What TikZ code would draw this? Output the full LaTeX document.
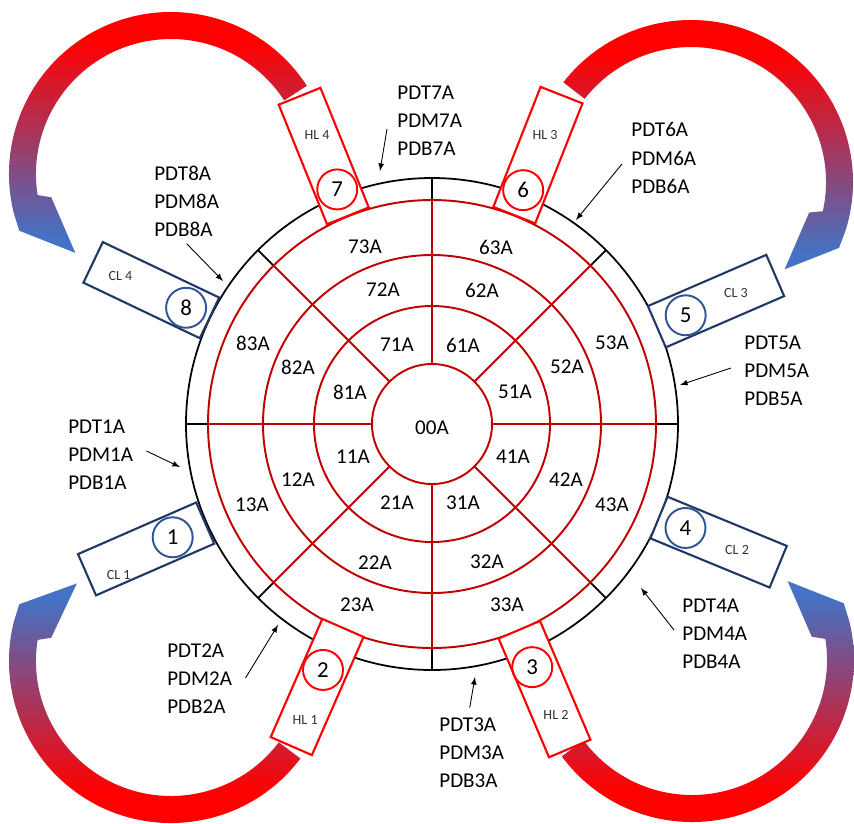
\documentclass[tikz,border=0pt]{standalone}
\usepackage{fontspec}
\setmainfont{Carlito}
\usepackage{tikz}
\definecolor{ringred}{RGB}{192,0,0}
\definecolor{hlred}{RGB}{255,0,0}
\definecolor{clnavy}{RGB}{32,56,100}
\definecolor{clblue}{RGB}{47,85,151}
\definecolor{flowred}{RGB}{255,0,0}
\definecolor{flowblue}{RGB}{68,114,196}
\pgfdeclareverticalshading{flowshade}{100bp}{color(0bp)=(flowblue); color(28bp)=(flowblue); color(65bp)=(flowred); color(100bp)=(flowred)}
\tikzset{every picture/.style={x=0.02cm,y=0.02cm},
  ring/.style={draw=ringred,line width=1.1pt},
  rim/.style={draw=black,line width=1pt},
  cell/.style={inner sep=0pt,font=\fontsize{12}{14}\selectfont},
  pdlabel/.style={inner sep=0pt,anchor=west,align=left,font=\fontsize{12}{16}\selectfont},
  hlbox/.style={draw=hlred,fill=white,line width=1.2pt,minimum width=2.58cm,minimum height=0.9cm,inner sep=0pt},
  clbox/.style={draw=clnavy,fill=white,line width=1.2pt,minimum width=2.58cm,minimum height=0.9cm,inner sep=0pt},
  hlnum/.style={circle,draw=hlred,line width=1.1pt,minimum size=0.8cm,inner sep=0pt,font=\fontsize{13}{15}\selectfont},
  clnum/.style={circle,draw=clblue,line width=1.1pt,minimum size=0.8cm,inner sep=0pt,font=\fontsize{13}{15}\selectfont},
  tag/.style={inner sep=0pt,text=black!80,font=\fontsize{8}{10}\selectfont},
  pointer/.style={-latex,line width=0.5pt},
  flow/.style={shading=flowshade}}
\begin{document}
\begin{tikzpicture}
\useasboundingbox (-432,-399) rectangle (422,424);

% big return arrows
\begin{scope}[shift={(-261,250)}]
\shade[flow] (33:162) arc[start angle=33,end angle=194,radius=162] -- (200.5:162) -- (219.5:124) -- (191:122) -- (189:135) arc[start angle=189,end angle=33,radius=135] -- cycle;
\end{scope}
\begin{scope}[shift={(259,242)}]
\shade[flow] (142:162) arc[start angle=142,end angle=-17.5,radius=162] -- (-24:162) -- (-43:128) -- (-14.5:122) -- (-12.5:135) arc[start angle=-12.5,end angle=142,radius=135] -- cycle;
\end{scope}
\begin{scope}[shift={(-261,-237)}]
\shade[flow,shading angle=180] (-37:162) arc[start angle=-37,end angle=-194,radius=162] -- (-200.5:162) -- (-219.5:122) -- (-191:122) -- (-189:135) arc[start angle=-189,end angle=-37,radius=135] -- cycle;
\end{scope}
\begin{scope}[shift={(260,-236)}]
\shade[flow,shading angle=180] (216.5:162) arc[start angle=216.5,end angle=374,radius=162] -- (380.5:162) -- (399.5:124) -- (371:122) -- (369:135) arc[start angle=369,end angle=216.5,radius=135] -- cycle;
\end{scope}

% rings and sectors
\draw[rim] (0,0) circle[radius=246];
\draw[rim] (0:224) -- (0:246) (45:224) -- (45:246) (90:224) -- (90:246) (135:224) -- (135:246)
  (180:224) -- (180:246) (225:224) -- (225:246) (270:224) -- (270:246) (315:224) -- (315:246);
\draw[ring] (0,0) circle[radius=60] circle[radius=118] circle[radius=169] circle[radius=224];
\draw[ring] (0:60) -- (0:224) (45:60) -- (45:224) (90:60) -- (90:224) (135:60) -- (135:224)
  (180:60) -- (180:224) (225:60) -- (225:224) (270:60) -- (270:224) (315:60) -- (315:224);

\node (s00) at (0,-4) [cell] {00A};
\node (s71) at (-35,79) [cell] {71A};
\node (s61) at (31,79) [cell] {61A};
\node (s81) at (-82,32) [cell] {81A};
\node (s51) at (83,32) [cell] {51A};
\node (s11) at (-79,-33) [cell] {11A};
\node (s41) at (81,-33) [cell] {41A};
\node (s21) at (-35,-79) [cell] {21A};
\node (s31) at (31,-79) [cell] {31A};
\node (s72) at (-49,134) [cell] {72A};
\node (s62) at (50,134) [cell] {62A};
\node (s82) at (-134,57) [cell] {82A};
\node (s52) at (135,57) [cell] {52A};
\node (s12) at (-134,-56) [cell] {12A};
\node (s42) at (134,-56) [cell] {42A};
\node (s22) at (-57,-139) [cell] {22A};
\node (s32) at (55,-138) [cell] {32A};
\node (s73) at (-67,177) [cell] {73A};
\node (s63) at (64,177) [cell] {63A};
\node (s83) at (-179,81) [cell] {83A};
\node (s53) at (180,81) [cell] {53A};
\node (s13) at (-180,-81) [cell] {13A};
\node (s43) at (180,-81) [cell] {43A};
\node (s23) at (-75,-181) [cell] {23A};
\node (s33) at (75,-181) [cell] {33A};

% hot legs
\node (h4) at (112:289) [hlbox,rotate=112] {};
\node (h3) at (68.5:289) [hlbox,rotate=68.5] {};
\node (h1) at (246.4:287) [hlbox,rotate=246.4] {};
\node (h2) at (293:288) [hlbox,rotate=293] {};
\node (n7) at (112:253) [hlnum] {7};
\node (n6) at (68.7:251) [hlnum] {6};
\node (n2) at (246.1:269) [hlnum] {2};
\node (n3) at (292.4:263) [hlnum] {3};
\node (k4) at (111.7:311) [tag] {HL 4};
\node (k3) at (68.6:310) [tag] {HL 3};
\node (k1) at (246.8:322) [tag] {HL 1};
\node (k2) at (293.1:316) [tag] {HL 2};

% cold legs
\node (c4) at (154.5:311) [clbox,rotate=154.5] {};
\node (c3) at (23.4:309.5) [clbox,rotate=23.4] {};
\node (c1) at (203.6:312) [clbox,rotate=203.6] {};
\node (c2) at (337.6:310) [clbox,rotate=337.6] {};
\node (n8) at (154.7:272) [clnum] {8};
\node (n5) at (23.2:276) [clnum] {5};
\node (n1) at (203.6:283) [clnum] {1};
\node (n4) at (337.7:274) [clnum] {4};
\node (m4) at (154.6:345) [tag] {CL 4};
\node (m3) at (23.3:331) [tag] {CL 3};
\node (m1) at (205.8:348) [tag] {CL 1};
\node (m2) at (337.6:330) [tag] {CL 2};

% detector labels
\node (l7) at (-35,303) [pdlabel] {PDT7A\\PDM7A\\PDB7A};
\node (l8) at (-278,223) [pdlabel] {PDT8A\\PDM8A\\PDB8A};
\node (l6) at (199,266) [pdlabel] {PDT6A\\PDM6A\\PDB6A};
\node (l5) at (312,53) [pdlabel] {PDT5A\\PDM5A\\PDB5A};
\node (l1) at (-364,-31) [pdlabel] {PDT1A\\PDM1A\\PDB1A};
\node (l2) at (-265,-255) [pdlabel] {PDT2A\\PDM2A\\PDB2A};
\node (l3) at (7,-329) [pdlabel] {PDT3A\\PDM3A\\PDB3A};
\node (l4) at (250,-210) [pdlabel] {PDT4A\\PDM4A\\PDB4A};

\coordinate (t7) at (-52,253);
\coordinate (t8) at (-209,143);
\coordinate (t6) at (144,204);
\coordinate (t5) at (248,39);
\coordinate (t1) at (-252,-43);
\coordinate (t2) at (-154,-201);
\coordinate (t3) at (43,-253);
\coordinate (t4) at (209,-164);
\draw[pointer] ([shift={(-10,-8)}]l7.west) -- (t7);
\draw[pointer] ([shift={(0,-7)}]l8.south) -- (t8);
\draw[pointer] ([shift={(-9,-6)}]l6.west) -- (t6);
\draw[pointer] ([shift={(-13,3)}]l5.west) -- (t5);
\draw[pointer] ([shift={(13,4)}]l1.east) -- (t1);
\draw[pointer] ([shift={(13,1)}]l2.east) -- (t2);
\draw[pointer] ([shift={(-2,10)}]l3.north) -- (t3);
\draw[pointer] ([shift={(-8,4)}]l4.west) -- (t4);
\end{tikzpicture}
\end{document}
